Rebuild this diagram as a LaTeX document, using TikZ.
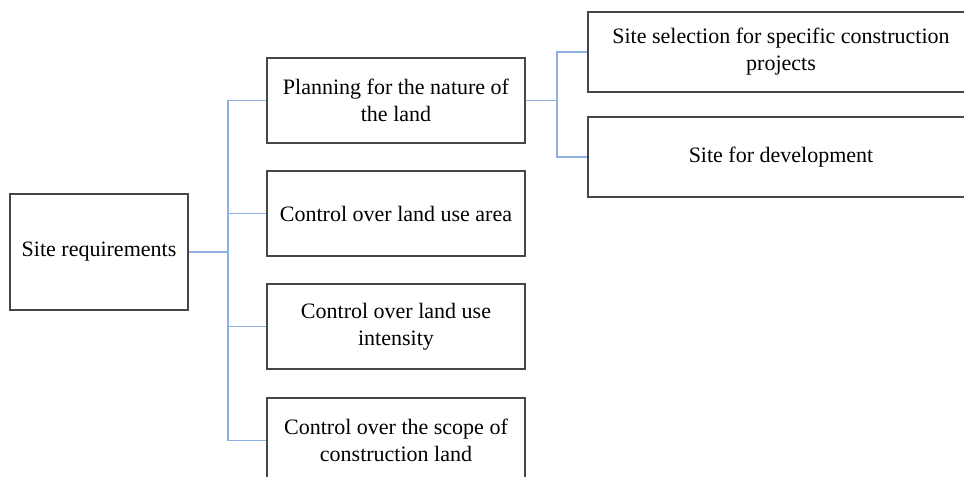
\documentclass[tikz,border=0pt]{standalone}
\usepackage{fontspec}
\setmainfont{Liberation Serif}
\tikzset{
  box/.style={draw={rgb,255:red,70;green,70;blue,70}, line width=1.1pt, fill=white, align=center,
    font=\fontsize{16.5}{20.3}\selectfont, inner sep=0pt},
  link/.style={draw={rgb,255:red,142;green,176;blue,227}, line width=0.8pt}
}
\begin{document}
\begin{tikzpicture}[x=0.75pt,y=0.75pt,yscale=-1,xscale=1]
\clip (0,0) rectangle (964,477);

% root
\node [box, minimum width=133.5pt, minimum height=87pt] (req) at (99,252) {Site requirements};

% second level
\node [box, minimum width=193.5pt, minimum height=63.75pt] (plan) at (396,100.5) {Planning for the nature of\\the land};
\node [box, minimum width=193.5pt, minimum height=63.75pt] (area) at (396,213.5) {Control over land use area};
\node [box, minimum width=193.5pt, minimum height=63.75pt] (intens) at (396,326.5) {Control over land use\\intensity};
\node [box, minimum width=193.5pt, minimum height=63.75pt] (scope) at (396,440.5) {Control over the scope of\\construction land};

% third level
\node [box, minimum width=289.5pt, minimum height=60pt] (sel) at (781,52) {Site selection for specific construction\\projects};
\node [box, minimum width=289.5pt, minimum height=60pt] (dev) at (781,157) {Site for development};

% connectors
\coordinate (j1) at (228,252);
\coordinate (j2) at (557,100.5);
\draw [link] (req.east) -- (j1);
\draw [link] (j1) |- (plan.west);
\draw [link] (j1) |- (area.west);
\draw [link] (j1) |- (intens.west);
\draw [link] (j1) |- (scope.west);
\draw [link] (plan.east) -- (j2);
\draw [link] (j2) |- (sel.west);
\draw [link] (j2) |- (dev.west);
\end{tikzpicture}
\end{document}
